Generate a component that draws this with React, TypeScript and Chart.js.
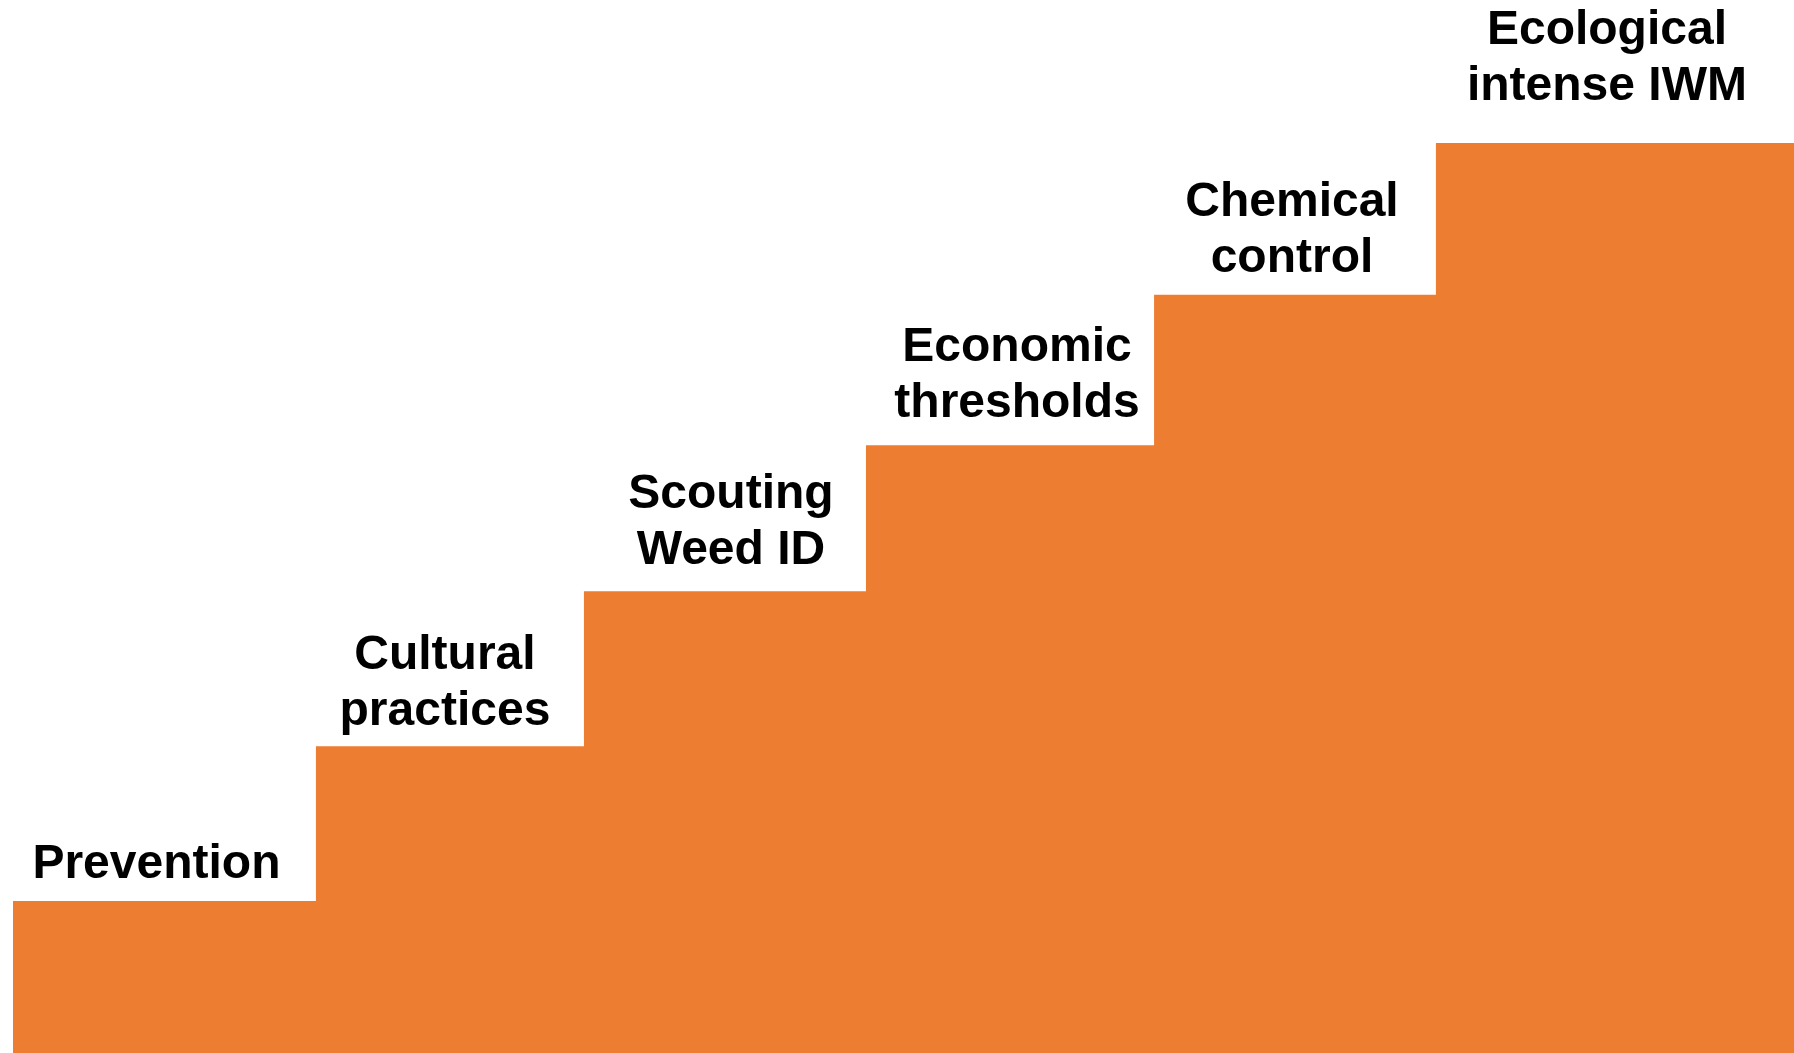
import React, { useEffect, useRef } from "react";
import { Chart, registerables } from "chart.js";

Chart.register(...registerables);

// Step labels (one entry per step, lines of text)
const stepLabels: string[][] = [
  ["Prevention"],
  ["Cultural", "practices"],
  ["Scouting", "Weed ID"],
  ["Economic", "thresholds"],
  ["Chemical", "control"],
  ["Ecological", "intense IWM"],
];

// Step boundaries on a 0–100 horizontal scale (start of each step, then the end of the last)
const stepBounds: number[] = [0.72, 17.61, 32.55, 48.27, 64.33, 80.04, 100];

// Step heights on a 0–7 vertical scale
const stepHeights: number[] = [1.01, 2.04, 3.07, 4.04, 5.04, 6.05];

const ORANGE = "#ED7D31";

const stepLabelPlugin = {
  id: "stepLabels",
  afterDatasetsDraw(chart: any, _args: any, opts: any) {
    const { ctx, scales } = chart;
    const xs = scales.x;
    const ys = scales.y;
    const dx: number[] = opts.dx || [];
    const lift: number[] = opts.lift || [];
    const lineHeight: number = opts.lineHeight || 56;
    ctx.save();
    ctx.font = opts.font;
    ctx.fillStyle = opts.color;
    ctx.textAlign = "center";
    ctx.textBaseline = "alphabetic";
    stepLabels.forEach((lines, i) => {
      const cx = xs.getPixelForValue((stepBounds[i] + stepBounds[i + 1]) / 2) + (dx[i] || 0);
      const top = ys.getPixelForValue(stepHeights[i]);
      const baseLast = top - (lift[i] ?? 25);
      const n = lines.length;
      lines.forEach((line, j) => {
        ctx.fillText(line, cx, baseLast - (n - 1 - j) * lineHeight);
      });
    });
    ctx.restore();
  },
};

export default function App() {
  const canvasRef = useRef<HTMLCanvasElement | null>(null);

  useEffect(() => {
    const canvas = canvasRef.current;
    if (!canvas) return;
    const points = stepHeights.map((h, i) => ({ x: stepBounds[i], y: h }));
    points.push({ x: stepBounds[stepBounds.length - 1], y: stepHeights[stepHeights.length - 1] });

    const chart = new Chart(canvas, {
      type: "line",
      data: {
        datasets: [
          {
            data: points,
            stepped: "before",
            fill: "origin",
            backgroundColor: ORANGE,
            borderColor: ORANGE,
            borderWidth: 0,
            pointRadius: 0,
            pointHoverRadius: 0,
          },
        ],
      },
      options: {
        animation: false,
        responsive: false,
        devicePixelRatio: 1,
        events: [],
        layout: { padding: 0 },
        scales: {
          x: { type: "linear", min: 0, max: 100, display: false },
          y: { type: "linear", min: 0, max: 7, display: false },
        },
        plugins: {
          legend: { display: false },
          tooltip: { enabled: false },
          stepLabels: {
            font: 'bold 48px "Liberation Sans", Arial, sans-serif',
            color: "#000000",
            lineHeight: 56,
            dx: [-8, -5, 6, 7, -3, -8],
            lift: [23, 21, 27, 28, 23, 43],
          },
        } as any,
      },
      plugins: [stepLabelPlugin],
    });
    return () => chart.destroy();
  }, []);

  return (
    <canvas
      ref={canvasRef}
      width={1794}
      height={1053}
      style={{ position: "absolute", left: 0, top: 0, width: 1794, height: 1053, display: "block" }}
    />
  );
}
